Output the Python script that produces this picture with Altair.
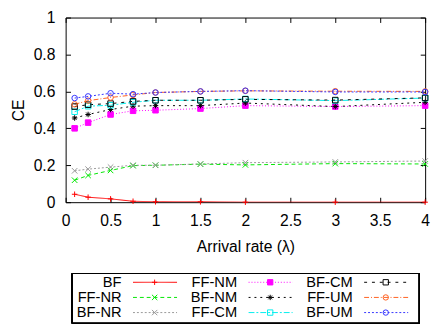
import altair as alt
import pandas as pd

xs = [0.1, 0.25, 0.5, 0.75, 1, 1.5, 2, 3, 4]
series = ["BF", "FF-NR", "BF-NR", "FF-NM", "BF-NM", "FF-CM", "BF-CM", "FF-UM", "BF-UM"]
BF = [0.043, 0.027, 0.018, 0.005, 0.002, 0.002, 0.0, 0.0, 0.0]
FF_NR = [0.119, 0.145, 0.172, 0.198, 0.2, 0.206, 0.202, 0.209, 0.207]
BF_NR = [0.17, 0.179, 0.19, 0.2, 0.2, 0.207, 0.214, 0.218, 0.223]
FF_NM = [0.40, 0.431, 0.475, 0.495, 0.498, 0.507, 0.523, 0.518, 0.523]
BF_NM = [0.456, 0.475, 0.502, 0.52, 0.523, 0.523, 0.537, 0.518, 0.541]
FF_CM = [0.49, 0.52, 0.525, 0.541, 0.552, 0.552, 0.559, 0.55, 0.564]
BF_CM = [0.518, 0.528, 0.534, 0.546, 0.552, 0.552, 0.557, 0.553, 0.565]
FF_UM = [0.53, 0.55, 0.567, 0.581, 0.594, 0.6, 0.603, 0.601, 0.6]
BF_UM = [0.564, 0.573, 0.59, 0.585, 0.594, 0.6, 0.604, 0.597, 0.597]
values = [BF, FF_NR, BF_NR, FF_NM, BF_NM, FF_CM, BF_CM, FF_UM, BF_UM]

x_ticks = [0, 0.5, 1, 1.5, 2, 2.5, 3, 3.5, 4]
y_ticks = [0, 0.2, 0.4, 0.6, 0.8, 1]

colors = ["#ff0000", "#00e600", "#999999", "#ff00ff", "#000000", "#00eeee", "#000000", "#ff6020", "#3333ff"]
dashes = [[1, 0], [4, 3], [2, 2], [1, 2], [2, 4], [6, 2, 2, 2], [3, 5], [5, 2, 1, 2], [2, 2]]
PLUS = "M-1,0L1,0M0,-1L0,1"
XS = "M-1,-1L1,1M-1,1L1,-1"
STAR = "M-1,0L1,0M0,-1L0,1M-0.7,-0.7L0.7,0.7M-0.7,0.7L0.7,-0.7"
shapes = [PLUS, XS, XS, "square", STAR, "square", "square", "circle", "circle"]
fills = ["transparent", "transparent", "transparent", "#ff00ff", "transparent", "transparent", "transparent", "transparent", "transparent"]

rows = []
for s, vals in zip(series, values):
    for x, v in zip(xs, vals):
        rows.append({"series": s, "x": x, "y": v})
df = pd.DataFrame(rows)

color_scale = alt.Scale(domain=series, range=colors)
dash_scale = alt.Scale(domain=series, range=dashes)
shape_scale = alt.Scale(domain=series, range=shapes)
fill_scale = alt.Scale(domain=series, range=fills)

FONT = "Liberation Sans"

xscale = alt.Scale(domain=[0, 4], nice=False)
yscale = alt.Scale(domain=[0, 1], nice=False)

base = alt.Chart(df)

lines = base.mark_line(strokeWidth=1, clip=True).encode(
    x=alt.X("x:Q", scale=xscale,
            axis=alt.Axis(title="Arrival rate (λ)", values=x_ticks, format="~g",
                          offset=-5, domain=False, grid=False,
                          tickSize=5, labelPadding=11, titlePadding=10, labelFlush=False)),
    y=alt.Y("y:Q", scale=yscale,
            axis=alt.Axis(title="CE", values=y_ticks, format="~g", offset=-5, domain=False,
                          grid=False, tickSize=5, labelPadding=11, titlePadding=7, labelFlush=False)),
    color=alt.Color("series:N", scale=color_scale, legend=None),
    strokeDash=alt.StrokeDash("series:N", scale=dash_scale, legend=None),
    detail="series:N",
)

points = base.mark_point(size=32, strokeWidth=1, opacity=1).encode(
    x=alt.X("x:Q", scale=xscale,
            axis=alt.Axis(orient="top", title=None, labels=False, values=x_ticks,
                          offset=-5, domain=False, grid=False, tickSize=5)),
    y=alt.Y("y:Q", scale=yscale,
            axis=alt.Axis(orient="right", title=None, labels=False, values=y_ticks,
                          offset=-5, domain=False, grid=False, tickSize=5)),
    color=alt.Color("series:N", scale=color_scale, legend=None),
    shape=alt.Shape("series:N", scale=shape_scale, legend=None),
    fill=alt.Fill("series:N", scale=fill_scale, legend=None),
)

main = alt.layer(lines, points).resolve_axis(x="independent", y="independent").properties(
    width=368, height=189, view=alt.ViewBackground(stroke="black", strokeWidth=1)
)

# custom gnuplot-style key (3 columns, filled column by column)
leg_rows = []
for i, s in enumerate(series):
    leg_rows.append({"series": s, "col": i // 3, "row": i % 3})
ldf = pd.DataFrame(leg_rows)

lx = alt.Scale(domain=[0, 368 / 118.3], nice=False, zero=False)
ly = alt.Scale(domain=[-0.58, 2.71], nice=False, zero=False, reverse=True)

lbase = alt.Chart(ldf).transform_calculate(
    tx="datum.col + 0.484", l1="datum.col + 0.583", l2="datum.col + 0.964", m="datum.col + 0.77"
)
lframe = alt.Chart(ldf).mark_rect(fill="transparent", stroke="black", strokeWidth=1).encode(
    x=alt.value(6.5), x2=alt.value(362), y=alt.value(0), y2=alt.value(51)
)
ltext = lbase.mark_text(align="right", baseline="middle", font=FONT, fontSize=15, color="black").encode(
    x=alt.X("tx:Q", scale=lx, axis=None),
    y=alt.Y("row:Q", scale=ly, axis=None),
    text="series:N",
)
lrule = lbase.mark_rule(strokeWidth=1).encode(
    x=alt.X("l1:Q", scale=lx, axis=None),
    x2="l2:Q",
    y=alt.Y("row:Q", scale=ly, axis=None),
    color=alt.Color("series:N", scale=color_scale, legend=None),
    strokeDash=alt.StrokeDash("series:N", scale=dash_scale, legend=None),
)
lpoint = lbase.mark_point(size=30, strokeWidth=1, opacity=1).encode(
    x=alt.X("m:Q", scale=lx, axis=None),
    y=alt.Y("row:Q", scale=ly, axis=None),
    color=alt.Color("series:N", scale=color_scale, legend=None),
    shape=alt.Shape("series:N", scale=shape_scale, legend=None),
    fill=alt.Fill("series:N", scale=fill_scale, legend=None),
)
legend = alt.layer(lframe, lrule, lpoint, ltext).properties(
    width=368, height=51, view=alt.ViewBackground(stroke="transparent")
)

chart = alt.vconcat(main, legend, spacing=18).configure(
    font=FONT, padding={"left": 2, "top": -3, "right": 0, "bottom": 0}
).configure_axis(
    labelFont=FONT, titleFont=FONT, labelFontSize=16, titleFontSize=16,
    labelColor="black", titleColor="black", tickColor="black",
    titleFontWeight="normal"
)

chart.save("out.html", embed_options={"renderer": "svg", "actions": False})
